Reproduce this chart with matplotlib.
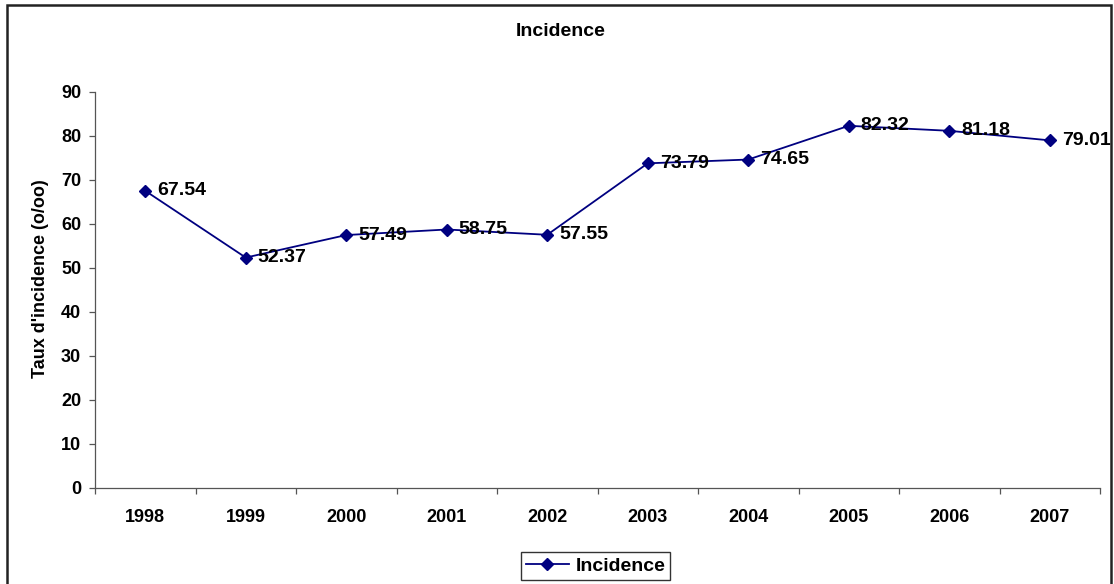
import matplotlib
matplotlib.use("Agg")
import matplotlib.pyplot as plt
from matplotlib.patches import Rectangle
import numpy as np

plt.rcParams['font.family'] = ['Liberation Sans', 'DejaVu Sans']
plt.rcParams['font.weight'] = 'bold'

years = ['1998', '1999', '2000', '2001', '2002', '2003', '2004', '2005', '2006', '2007']
incidence = [67.54, 52.37, 57.49, 58.75, 57.55, 73.79, 74.65, 82.32, 81.18, 79.01]
series_name = 'Incidence'
title = 'Incidence'
y_label = "Taux d'incidence (o/oo)"

W, H = 1114, 584
fig = plt.figure(figsize=(W / 100, H / 100), dpi=100)
fig.patch.set_facecolor('white')

# plot area in pixel coordinates
left, right, top, bottom = 95, 1100, 92, 488
ax = fig.add_axes([left / W, 1 - bottom / H, (right - left) / W, (bottom - top) / H])

x = np.arange(len(years))
navy = '#000080'
line, = ax.plot(x, incidence, color=navy, lw=1.3, marker='D', ms=6.3,
                mec=navy, mfc=navy, label=series_name)

for xi, v in zip(x, incidence):
    ax.annotate(f'{v:.2f}', (xi, v), xytext=(12, 0), textcoords='offset pixels',
                ha='left', va='center', fontsize=14, fontweight='bold', color='black')

ax.set_xlim(-0.5, len(years) - 0.5)
ax.set_ylim(0, 90)
ax.set_yticks(np.arange(0, 91, 10))

# category boundaries carry the tick marks; labels sit at category centres
ax.set_xticks(np.arange(-0.5, len(years), 1.0))
ax.set_xticklabels([])
ax.set_xticks(x, minor=True)
ax.set_xticklabels(years, minor=True)
ax.tick_params(axis='x', which='major', direction='out', length=4.5, width=0.9, color='#555555')
ax.tick_params(axis='x', which='minor', length=0, pad=15, labelsize=13)
ax.tick_params(axis='y', direction='out', length=4, width=0.9, color='#555555', pad=6, labelsize=13)
for lbl in ax.get_xticklabels(minor=True) + ax.get_yticklabels():
    lbl.set_fontweight('bold')

for s in ['top', 'right']:
    ax.spines[s].set_visible(False)
for s in ['left', 'bottom']:
    ax.spines[s].set_color('#555555')
    ax.spines[s].set_linewidth(0.9)

fig.text(561 / W, 1 - 32 / H, title, ha='center', va='center', fontsize=14, fontweight='bold')
fig.text(41 / W, 1 - 279 / H, y_label, ha='center', va='center', rotation=90,
         fontsize=13, fontweight='bold')

leg = fig.legend(handles=[line], loc='center', bbox_to_anchor=(595.5 / W, 1 - 566 / H),
                 frameon=True, fancybox=False, prop={'weight': 'bold', 'size': 14},
                 handlelength=2.2, handletextpad=0.35, borderpad=0.25, borderaxespad=0)
leg.get_frame().set_edgecolor('black')
leg.get_frame().set_linewidth(1.0)

# chart border
fig.patches.append(Rectangle((7 / W, -0.02), (1111 - 7) / W, 1 - 5 / H + 0.02,
                             transform=fig.transFigure, fill=False, edgecolor='#222222',
                             linewidth=1.8))

fig.savefig('out.png', dpi=100, facecolor='white')
